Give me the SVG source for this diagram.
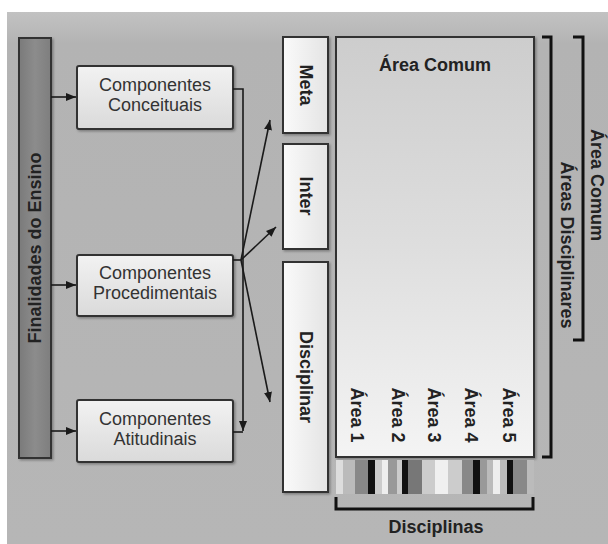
<svg xmlns="http://www.w3.org/2000/svg" width="608" height="544" viewBox="0 0 608 544">
<defs>
<linearGradient id="bg" x1="0" y1="0" x2="0" y2="1"><stop offset="0" stop-color="#c2c2c2"/><stop offset="0.06" stop-color="#b3b3b3"/><stop offset="1" stop-color="#b6b6b6"/></linearGradient>
<linearGradient id="bar" x1="0" y1="0" x2="1" y2="0"><stop offset="0" stop-color="#7a7a7a"/><stop offset="0.5" stop-color="#8c8c8c"/><stop offset="1" stop-color="#7e7e7e"/></linearGradient>
<linearGradient id="comp" x1="0" y1="0" x2="0" y2="1"><stop offset="0" stop-color="#f2f2f2"/><stop offset="1" stop-color="#dadada"/></linearGradient>
<linearGradient id="side" x1="0" y1="0" x2="1" y2="0"><stop offset="0" stop-color="#fafafa"/><stop offset="1" stop-color="#e4e4e4"/></linearGradient>
<linearGradient id="main" x1="0" y1="0" x2="0" y2="1"><stop offset="0" stop-color="#cdcdcd"/><stop offset="0.5" stop-color="#dedede"/><stop offset="1" stop-color="#f4f4f4"/></linearGradient>
<marker id="ah" markerUnits="userSpaceOnUse" markerWidth="10" markerHeight="8" refX="10" refY="4" orient="auto"><path d="M0,0 L10,4 L0,8 z" fill="#1a1a1a"/></marker>
<filter id="sh" x="-10%" y="-10%" width="130%" height="130%"><feDropShadow dx="1.5" dy="1.5" stdDeviation="1" flood-color="#000" flood-opacity="0.3"/></filter>
</defs>
<style>
.box{stroke:#333;stroke-width:2;filter:url(#sh)}
.lbl{font-family:"Liberation Sans",Arial,sans-serif;font-size:18px;fill:#333;text-anchor:middle}
.b{font-weight:bold;fill:#222}
.con{stroke:#1a1a1a;stroke-width:1.6;fill:none}
.brk{stroke:#111;stroke-width:3;fill:none}
</style>
<rect x="0" y="0" width="608" height="544" fill="#ffffff"/>
<rect x="7" y="12" width="601" height="532" fill="url(#bg)"/>

<g id="finalidades">
<rect class="box" x="19" y="38" width="32" height="420" fill="url(#bar)"/>
<text class="lbl b" transform="translate(35,248) rotate(-90)" dominant-baseline="central" fill="#2a2a2a">Finalidades do Ensino</text>
</g>

<g id="conceituais">
<rect class="box" x="77" y="66" width="156" height="63" rx="2" fill="url(#comp)"/>
<text class="lbl" x="155" y="91">Componentes</text>
<text class="lbl" x="155" y="111">Conceituais</text>
</g>
<g id="procedimentais">
<rect class="box" x="77" y="255" width="156" height="61" rx="2" fill="url(#comp)"/>
<text class="lbl" x="155" y="279">Componentes</text>
<text class="lbl" x="155" y="299">Procedimentais</text>
</g>
<g id="atitudinais">
<rect class="box" x="77" y="400" width="156" height="62" rx="2" fill="url(#comp)"/>
<text class="lbl" x="155" y="425">Componentes</text>
<text class="lbl" x="155" y="445">Atitudinais</text>
</g>

<g id="meta">
<rect class="box" x="283" y="37" width="45" height="96" fill="url(#side)"/>
<text class="lbl b" transform="translate(306,85) rotate(90)" dominant-baseline="central">Meta</text>
</g>
<g id="inter">
<rect class="box" x="283" y="144" width="45" height="105" fill="url(#side)"/>
<text class="lbl b" transform="translate(306,196) rotate(90)" dominant-baseline="central">Inter</text>
</g>
<g id="disciplinar">
<rect class="box" x="283" y="262" width="45" height="230" fill="url(#side)"/>
<text class="lbl b" transform="translate(306,377) rotate(90)" dominant-baseline="central">Disciplinar</text>
</g>

<g id="area-comum-box">
<rect class="box" x="336" y="37" width="198" height="420" fill="url(#main)"/>
<text class="lbl b" x="435" y="71">Área Comum</text>
<text class="lbl b" transform="translate(357,415) rotate(90)" dominant-baseline="central" font-size="17">Área 1</text>
<text class="lbl b" transform="translate(398,415) rotate(90)" dominant-baseline="central" font-size="17">Área 2</text>
<text class="lbl b" transform="translate(434,415) rotate(90)" dominant-baseline="central" font-size="17">Área 3</text>
<text class="lbl b" transform="translate(471,415) rotate(90)" dominant-baseline="central" font-size="17">Área 4</text>
<text class="lbl b" transform="translate(509,415) rotate(90)" dominant-baseline="central" font-size="17">Área 5</text>
</g>

<g id="stripes">
<rect x="336" y="460" width="7" height="34" fill="#dddddd"/>
<rect x="343" y="460" width="12" height="34" fill="#bbbbbb"/>
<rect x="355" y="460" width="13" height="34" fill="#888888"/>
<rect x="368" y="460" width="7" height="34" fill="#111111"/>
<rect x="375" y="460" width="7" height="34" fill="#cccccc"/>
<rect x="382" y="460" width="6" height="34" fill="#eeeeee"/>
<rect x="388" y="460" width="9" height="34" fill="#999999"/>
<rect x="397" y="460" width="5" height="34" fill="#cccccc"/>
<rect x="402" y="460" width="6" height="34" fill="#111111"/>
<rect x="408" y="460" width="14" height="34" fill="#777777"/>
<rect x="422" y="460" width="13" height="34" fill="#cccccc"/>
<rect x="435" y="460" width="13" height="34" fill="#f0f0f0"/>
<rect x="448" y="460" width="14" height="34" fill="#cccccc"/>
<rect x="462" y="460" width="11" height="34" fill="#888888"/>
<rect x="473" y="460" width="7" height="34" fill="#111111"/>
<rect x="480" y="460" width="7" height="34" fill="#999999"/>
<rect x="487" y="460" width="6" height="34" fill="#bbbbbb"/>
<rect x="493" y="460" width="7" height="34" fill="#eeeeee"/>
<rect x="500" y="460" width="7" height="34" fill="#bbbbbb"/>
<rect x="507" y="460" width="6" height="34" fill="#111111"/>
<rect x="513" y="460" width="14" height="34" fill="#888888"/>
<rect x="527" y="460" width="7" height="34" fill="#bbbbbb"/>
</g>

<g id="disciplinas">
<path class="brk" d="M336,497 V509 H533 V497"/>
<text class="lbl b" x="436" y="533">Disciplinas</text>
</g>

<g id="areas-disciplinares">
<path class="brk" d="M542,37 H551 V457 H542"/>
<text class="lbl b" transform="translate(567,245) rotate(90)" dominant-baseline="central">Áreas Disciplinares</text>
</g>
<g id="area-comum-right">
<path class="brk" d="M573,37 H583 V340 H573"/>
<text class="lbl b" transform="translate(597,185) rotate(90)" dominant-baseline="central">Área Comum</text>
</g>

<g id="connectors">
<path class="con" d="M51,97 H76" marker-end="url(#ah)"/>
<path class="con" d="M51,285 H76" marker-end="url(#ah)"/>
<path class="con" d="M51,431 H76" marker-end="url(#ah)"/>
<path class="con" d="M233,89 H243 V431" marker-end="url(#ah)"/>
<path class="con" d="M233,432 H243"/>
<path class="con" d="M233,260 H241"/>
<path class="con" d="M241,260 L270,120" marker-end="url(#ah)"/>
<path class="con" d="M241,260 L276,227" marker-end="url(#ah)"/>
<path class="con" d="M241,260 L270,402" marker-end="url(#ah)"/>
</g>
</svg>
